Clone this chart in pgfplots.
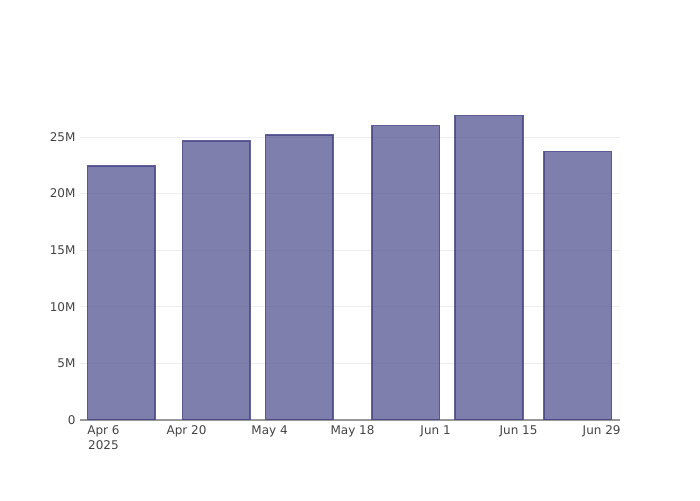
\documentclass[border=0pt]{standalone}
\usepackage{fontspec}
\setmainfont{DejaVu Sans}
\usepackage{pgfplots}
\pgfplotsset{compat=1.18}
\definecolor{txt}{HTML}{444444}
\definecolor{grid}{HTML}{EEEEEE}
\definecolor{barfill}{RGB}{73,73,138}
\definecolor{baredge}{RGB}{72,72,136}
\begin{document}
\begin{tikzpicture}[x=1pt,y=1pt]
\path[use as bounding box] (0,0) rectangle (700,500);
\begin{axis}[
  at={(80pt,80pt)}, anchor=south west,
  scale only axis, width=540pt, height=320pt,
  xmin=-3.96, xmax=87.1,
  ymin=0, ymax=28.26e6,
  axis x line*=bottom, axis y line*=left,
  x axis line style={draw=black!40, line width=1.2pt},
  y axis line style={draw=none},
  major tick length=0pt,
  ymajorgrids, grid style={draw=grid, line width=0.8pt},
  scaled ticks=false,
  ytick={0,5e6,10e6,15e6,20e6,25e6},
  yticklabels={0,5M,10M,15M,20M,25M},
  xtick={0,14,28,42,56,70,84},
  xticklabels={Apr 6\\2025,Apr 20,May 4,May 18,Jun 1,Jun 15,Jun 29},
  tick label style={font=\fontsize{12}{15}\selectfont, text=txt},
  xticklabel style={align=center, yshift=-2pt},
  yticklabel style={xshift=-1pt},
  /pgf/number format/assume math mode=true,
  ybar, bar width=11.4,
]
\addplot[fill=barfill, fill opacity=0.7, draw=baredge, draw opacity=0.85, line width=1.5pt] coordinates {
  (3,22.42e6) (19,24.62e6) (33,25.15e6) (51,26.0e6) (65,26.88e6) (80,23.70e6)
};
\end{axis}
\end{tikzpicture}
\end{document}
